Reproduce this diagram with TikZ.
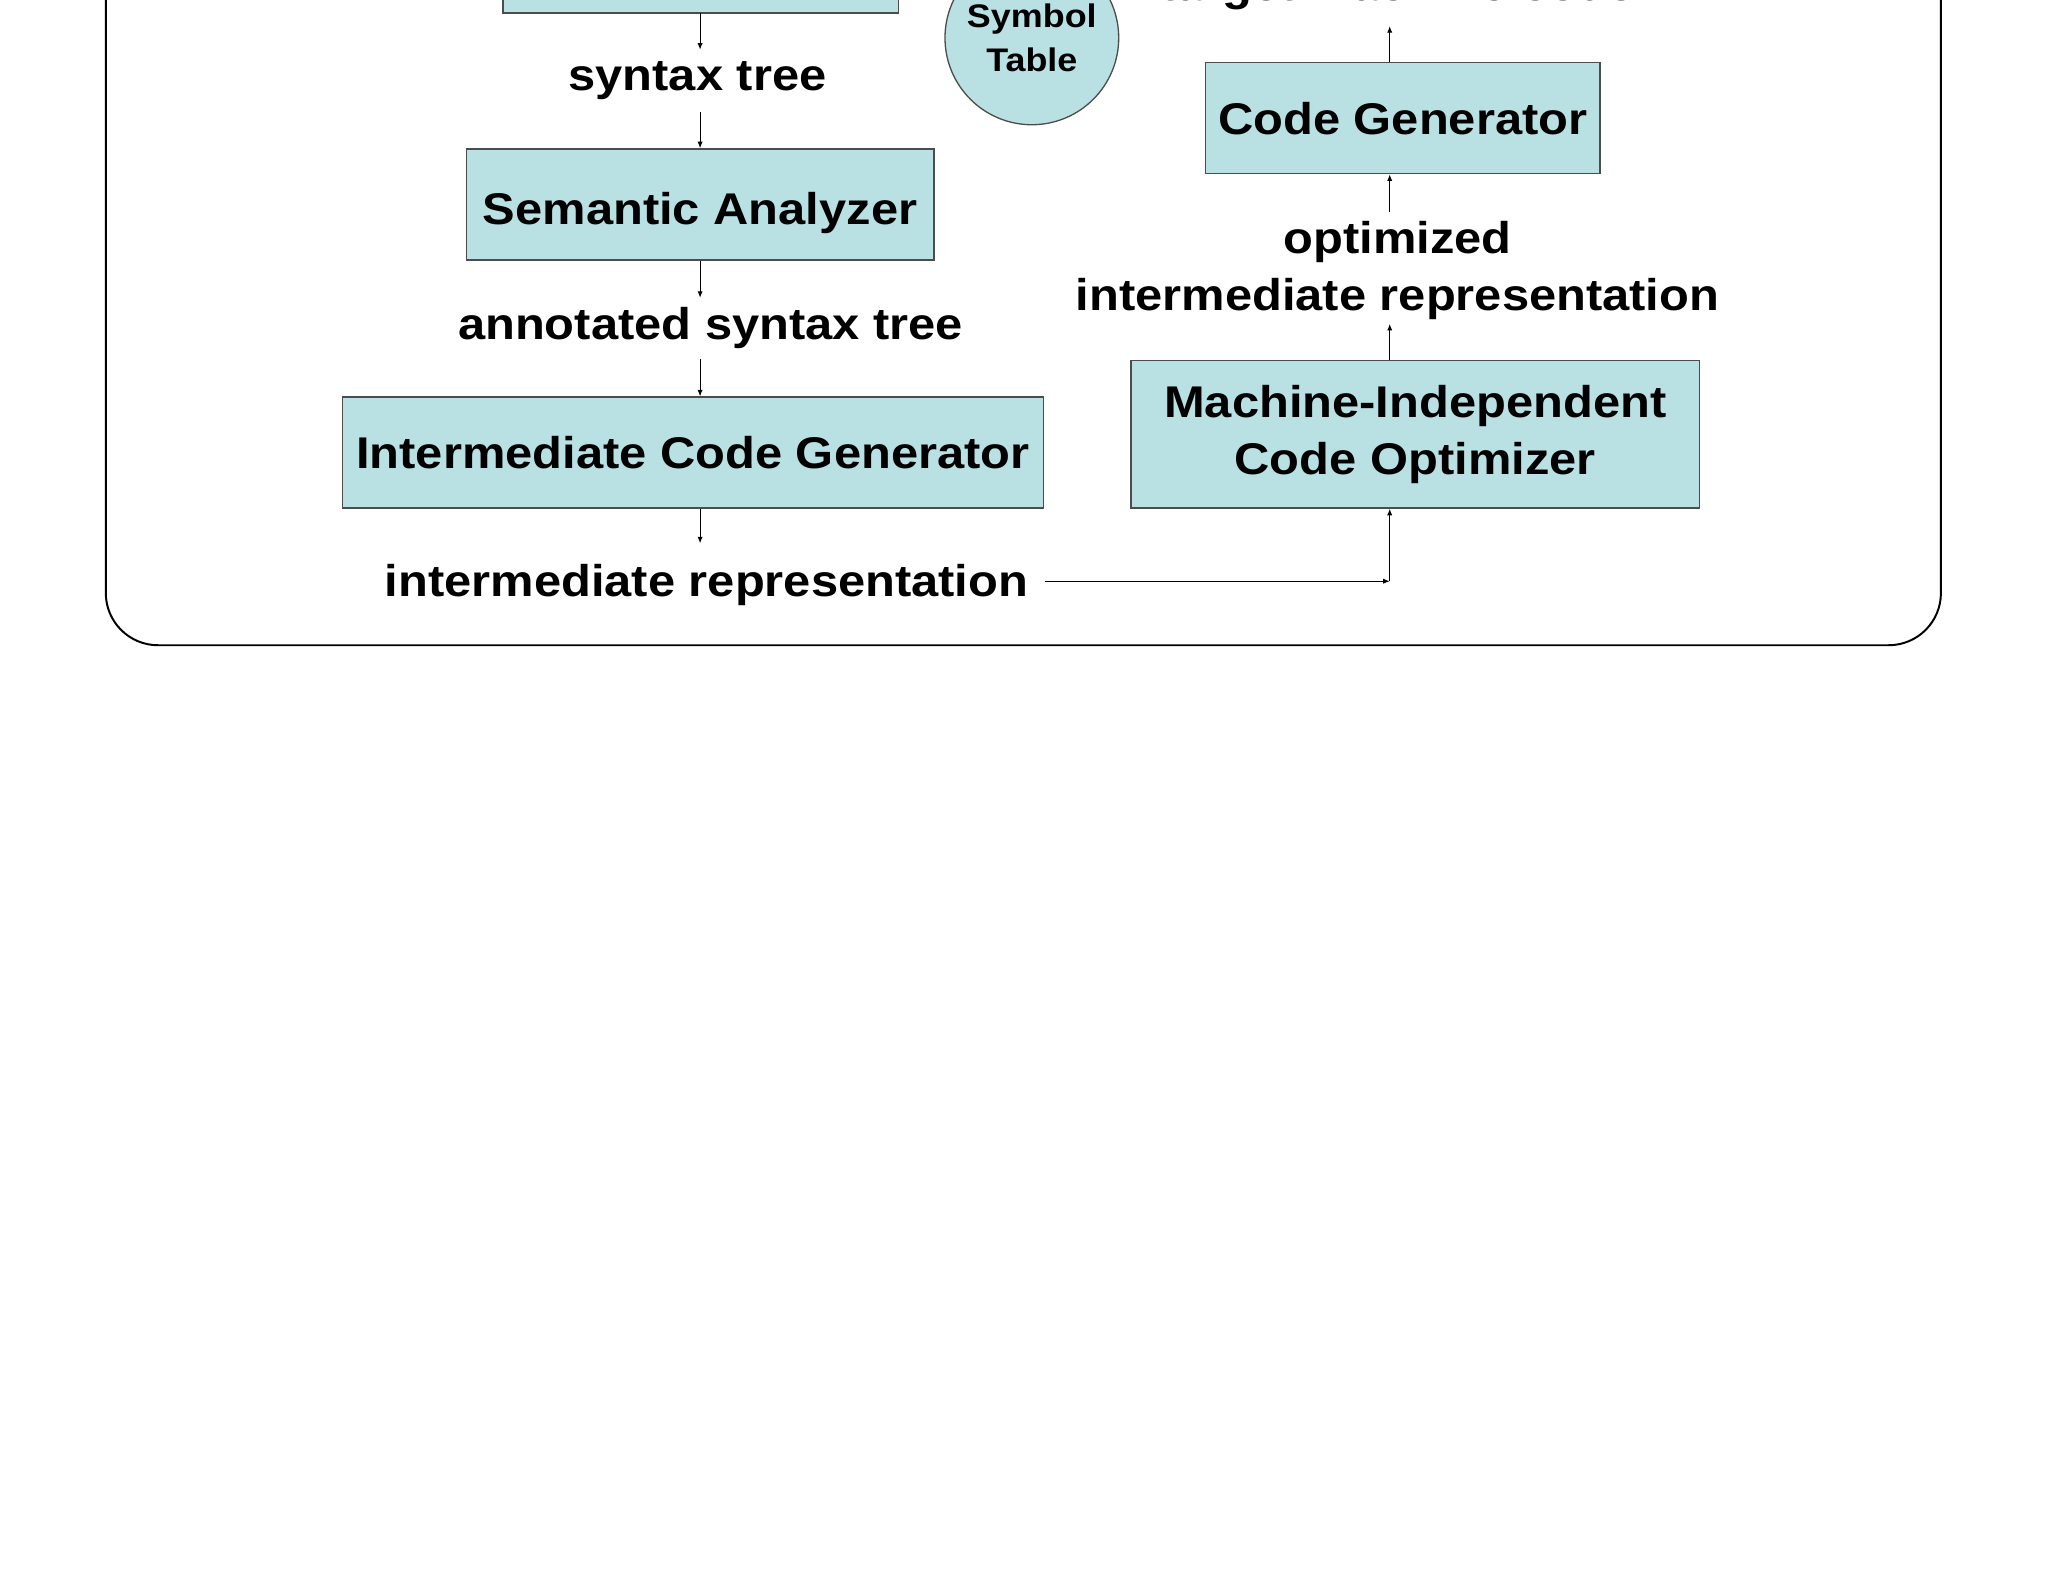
\documentclass[tikz,border=0pt]{standalone}
\usepackage{fontspec}
\setmainfont{Liberation Sans}[FakeStretch=1.1]
\usetikzlibrary{arrows.meta}
\definecolor{boxblue}{HTML}{B9E0E2}
\begin{document}
\begin{tikzpicture}[x=1pt,y=-1pt,
  blk/.style={draw=black!70,fill=boxblue,line width=1pt},
  lbl/.style={font=\fontsize{34}{44}\selectfont\bfseries,align=center},
  arr/.style={-{Latex[length=5pt,width=4pt]},line width=0.8pt}]
\useasboundingbox (0,0) rectangle (1568,1212);
\clip (0,0) rectangle (1568,1212);
\draw[line width=1.5pt,rounded corners=40pt] (81,-200) rectangle (1486,494);
% boxes
\draw[blk] (385,-100) rectangle (688,10);
\coordinate (top) at (536,10);
\node[blk,minimum width=358pt,minimum height=85pt,lbl,text depth=0pt,text height=31pt] (sa) at (536,156.5) {Semantic Analyzer};
\node[blk,minimum width=537pt,minimum height=85pt,lbl] (icg) at (530.5,346.5) {Intermediate Code Generator};
\node[blk,minimum width=435pt,minimum height=113pt,lbl] (mico) at (1083.5,332.5) {Machine-Independent\\Code Optimizer};
\node[blk,minimum width=302pt,minimum height=85pt,lbl] (cg) at (1074,90.5) {Code Generator};
\node[blk,circle,minimum size=133pt,inner sep=0pt,font=\fontsize{25}{34}\selectfont\bfseries,align=center] (st) at (790,29) {Symbol\\Table};
% labels
\node[lbl] (st1) at (534,62) {syntax tree};
\node[lbl] (ast) at (544,251) {annotated syntax tree};
\node[lbl] (ir) at (541,448) {intermediate representation};
\node[lbl] (oir) at (1070,207) {optimized\\intermediate representation};
\node[lbl] (tmc) at (1070,-8) {target machine code};
% arrows
\draw[arr] (top) -- (536,38);
\draw[arr] (536,86) -- (sa.north -| 536,0);
\draw[arr] (sa.south -| 536,0) -- (536,228);
\draw[arr] (536,275) -- (icg.north -| 536,0);
\draw[arr] (icg.south -| 536,0) -- (536,416);
\coordinate (corner) at (1064,445);
\draw[arr] (800,445) -- (corner);
\draw[arr] (corner) -- (mico.south -| corner);
\draw[arr] (mico.north -| corner) -- (1064,248);
\draw[arr] (1064,162) -- (cg.south -| corner);
\draw[arr] (cg.north -| corner) -- (1064,20);
\end{tikzpicture}
\end{document}
